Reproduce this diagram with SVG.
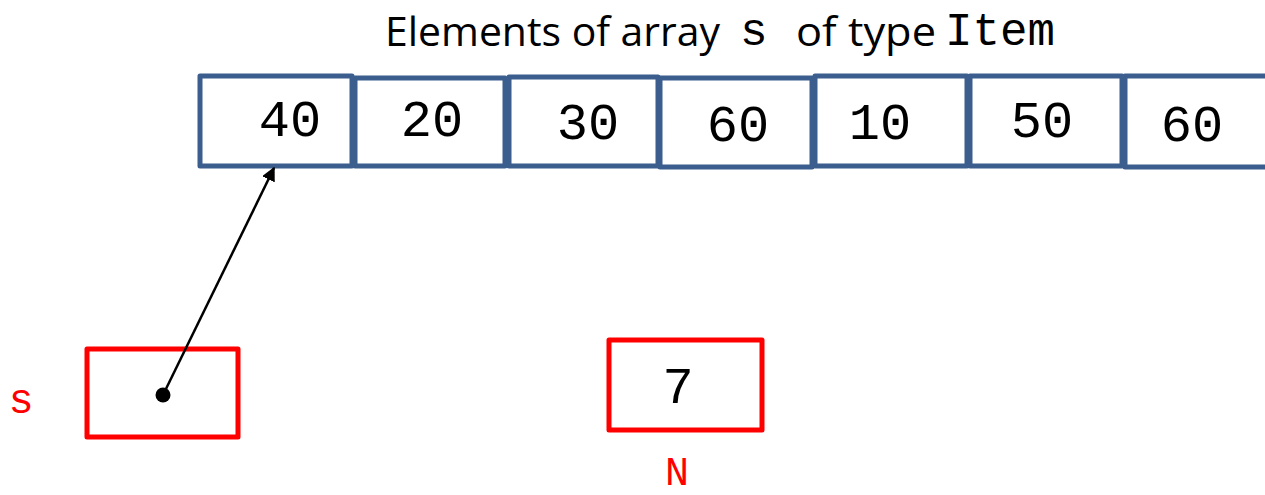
<svg xmlns="http://www.w3.org/2000/svg" width="1265" height="495" viewBox="0 0 1265 495">
<style>
.cell{fill:#fff;stroke:#3B5E8E;stroke-width:5;stroke-linejoin:round}
.var{fill:#fff;stroke:#FF0000;stroke-width:5;stroke-linejoin:round}
.num{font-family:"Liberation Mono",monospace;font-size:52px;fill:#000;text-anchor:middle}
.lbl{font-family:"Liberation Mono",monospace;font-size:42px;fill:#FF0000;text-anchor:middle}
.title{font-family:"Open Sans",sans-serif;font-size:41px;fill:#000}
.mono{font-family:"Liberation Mono",monospace;font-size:46px;fill:#000}
</style>
<defs>
<marker id="ah" viewBox="0 0 10 10" refX="9" refY="5" markerWidth="14" markerHeight="14" orient="auto-start-reverse" markerUnits="userSpaceOnUse">
<path d="M0,0 L10,5 L0,10 z" fill="#000"/>
</marker>
</defs>
<g id="title">
<text class="title" x="385" y="46" textLength="335" lengthAdjust="spacingAndGlyphs">Elements of array</text>
<text class="mono" x="740" y="45">s</text>
<text class="title" x="796" y="46" textLength="140" lengthAdjust="spacingAndGlyphs">of type</text>
<text class="mono" x="945" y="45" textLength="110" lengthAdjust="spacingAndGlyphs">Item</text>
</g>
<g id="cell0"><rect class="cell" x="200" y="76" width="152" height="90"/><text class="num" x="290" y="136">40</text></g>
<g id="cell1"><rect class="cell" x="355" y="78" width="150" height="88"/><text class="num" x="432" y="136">20</text></g>
<g id="cell2"><rect class="cell" x="509" y="77" width="149" height="89"/><text class="num" x="588" y="139">30</text></g>
<g id="cell3"><rect class="cell" x="660" y="78" width="152" height="89"/><text class="num" x="738" y="141">60</text></g>
<g id="cell4"><rect class="cell" x="815" y="76" width="152" height="90"/><text class="num" x="880" y="139">10</text></g>
<g id="cell5"><rect class="cell" x="970" y="76" width="152" height="90"/><text class="num" x="1042" y="137">50</text></g>
<g id="cell6"><rect class="cell" x="1125" y="76" width="150" height="91"/><text class="num" x="1192" y="141">60</text></g>
<g id="var-s"><rect class="var" x="87" y="349" width="151" height="88"/><text class="lbl" x="21" y="413">s</text></g>
<g id="var-N"><rect class="var" x="609" y="340" width="153" height="90"/><text class="num" x="678" y="403">7</text><text class="lbl" x="677" y="485" style="font-size:40px">N</text></g>
<g id="connectors">
<line x1="163" y1="395" x2="274" y2="168" stroke="#000" stroke-width="2.5" marker-end="url(#ah)"/>
<circle cx="163" cy="395" r="7.5" fill="#000"/>
</g>
</svg>
